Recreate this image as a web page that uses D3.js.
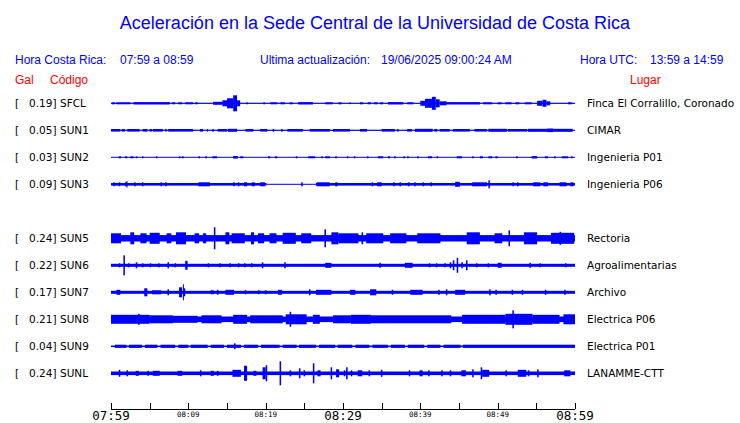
<!DOCTYPE html>
<html><head><meta charset="utf-8">
<script src="https://cdn.jsdelivr.net/npm/d3@7"></script>
<style>body{margin:0;background:#fff}svg{display:block}</style>
</head><body><svg id="c" width="740" height="423"></svg>
<script>
// ---------- DATA ----------
const title = "Aceleración en la Sede Central de la Universidad de Costa Rica";
const horaCR = "07:59 a 08:59";
const horaUTC = "13:59 a 14:59";
const actualizacion = "19/06/2025 09:00:24 AM";
const codes  = ["SFCL","SUN1","SUN2","SUN3","SUN5","SUN6","SUN7","SUN8","SUN9","SUNL"];
const slots  = [0,1,2,3,5,6,7,8,9,10];
const gal    = ["0.19","0.05","0.03","0.09","0.24","0.22","0.17","0.21","0.04","0.24"];
const places = ["Finca El Corralillo, Coronado","CIMAR","Ingenieria P01","Ingenieria P06","Rectoria","Agroalimentarias","Archivo","Electrica P06","Electrica P01","LANAMME-CTT"];
const tickMinutes = [0,5,10,15,20,25,30,35,40,45,50,55,60];
const tickLabels = {0:"07:59",10:"08:09",20:"08:19",30:"08:29",40:"08:39",50:"08:49",60:"08:59"};
const majorTicks = [0,30,60];
// background level per station: [start min, end min, amplitude]
const baseSFCL = [[0,60,0.6]];
const baseSUN1 = [[0,60,0.6]];
const baseSUN2 = [[0,60,0.5]];
const baseSUN3 = [[0,20.1,1.3],[20.1,26.5,0.5],[26.5,60,1.3]];
const baseSUN5 = [[0,60,3.2]];
const baseSUN6 = [[0,60,1.5]];
const baseSUN7 = [[0,60,1.5]];
const baseSUN8 = [[0,60,2.8]];
const baseSUN9 = [[0,60,0.8]];
const baseSUNL = [[0,60,1.8]];
// bursts per station: [start min, end min, amplitude]
const burstSFCL = [[0.1,0.5,1],[0.7,2.5,1],[2.9,7.6,1.2],[7.9,8.3,1],[8.7,9.2,1],[9.6,10.6,1],[10.9,11.2,1],[13.2,14.4,1.5],[14.4,15.0,3],[15.0,15.8,5],[15.8,16.3,8],[16.3,16.7,3],[17.5,17.7,1],[19.7,19.9,1],[20.6,21.5,1],[21.9,22.5,1],[23.1,23.5,1],[24.2,26.1,1.2],[27.7,28.7,1],[29.4,29.8,1],[30.8,31.0,0.8],[32.2,32.6,1],[33.2,33.6,1],[34.0,34.5,1],[34.8,35.2,1],[35.8,37.8,1.2],[38.3,39.1,1],[40.0,40.6,2.5],[40.6,41.5,4.5],[41.5,42.0,6.5],[42.0,42.5,4],[42.5,43.4,2],[43.4,47.7,1.2],[48.1,49.3,1],[50.0,50.5,1],[51.0,51.8,1],[52.3,52.8,1],[53.5,54.4,1],[55.1,55.8,2.5],[55.8,56.3,3.5],[56.3,56.8,2],[59.1,59.6,1]];
const burstSUN1 = [[0,1.2,1.3],[1.4,1.8,1.3],[2.1,3.7,1.3],[4.1,4.7,1.3],[5.0,5.3,1.3],[5.4,6.7,1.3],[7.0,7.2,1.3],[7.4,10.6,1.3],[11.5,11.9,1.3],[12.4,12.5,1.3],[13.1,13.3,1.3],[13.8,15.0,1.3],[15.1,16.3,1.5],[17.4,17.6,1.3],[17.6,18.4,1.3],[19.3,20.2,1.3],[20.9,21.1,1.3],[22.0,22.2,1.3],[22.8,24.8,1.3],[25.7,28.3,1.3],[28.7,30.9,1.3],[32.2,33.1,1.3],[35.0,36.7,1.3],[37.0,37.2,1.3],[38.3,38.9,1.3],[39.3,41.6,1.5],[41.8,42.2,1.3],[42.5,43.8,1.3],[44.2,46.4,1.3],[47.0,48.6,1.3],[48.8,51.2,1.5],[51.3,53.8,1.3],[53.9,56.4,1.5],[56.4,57.2,1.8],[57.2,59.7,1.5]];
const burstSUN2 = [[1.0,1.3,1],[1.8,2.1,1],[2.5,2.9,1],[3.2,3.4,1],[4.0,4.2,1],[5.8,6.0,1],[8.8,9.0,1],[9.2,9.4,1],[11.3,11.5,1],[12.2,12.4,1],[13.1,13.7,1],[15.8,16.4,1.3],[16.7,17.1,1],[20.3,20.6,1],[21.2,21.5,1],[23.9,24.1,1],[25.5,26.4,1],[27.2,27.4,1],[27.7,28.3,1],[29.0,29.2,1],[30.5,30.7,1],[31.4,31.6,1],[33.1,33.3,1],[34.5,35.2,1],[35.8,36.1,1],[36.6,36.8,1],[37.8,38.0,1],[38.3,38.5,1],[39.6,39.8,1],[41.0,41.5,1],[42.1,42.3,1],[44.7,45.4,1],[46.7,46.9,1],[47.7,48.1,1],[48.8,49.3,1],[49.7,50.0,1],[52.4,52.6,1],[54.4,55.1,1.2],[56.1,56.5,1],[57.3,57.5,1],[58.3,59.1,1],[59.5,59.7,1]];
const burstSUN3 = [[0.3,0.5,2],[1.0,1.2,2],[1.8,2.1,2],[2.0,2.1,3.3],[3.0,3.2,2],[4.0,4.2,2],[6.4,6.6,2],[7.0,7.2,2],[11.3,12.8,2],[15.8,16.0,2],[16.4,16.6,2],[17.2,17.6,2],[18.2,18.6,2],[19.3,19.9,2],[24.6,24.8,2],[26.6,28.3,2],[29.0,29.3,2],[33.7,33.9,2],[34.4,35.0,2],[36.5,36.7,2],[37.3,37.5,2],[38.4,38.6,2],[39.2,39.4,2],[40.3,40.5,2],[41.3,41.5,2],[44.5,45.1,2.5],[46.7,48.6,2],[48.8,49.0,4],[51.9,52.1,2],[52.5,52.7,2],[54.6,55.5,2],[55.9,56.5,2],[58.0,58.9,2],[59.4,59.8,2]];
const burstSUN5 = [[0,1.3,5],[2.5,3.0,6],[3.8,4.6,5],[5.0,6.3,5.5],[7.2,7.8,5],[8.4,9.7,6],[10.8,11.4,5],[11.9,12.3,5],[13.3,13.5,11],[14.8,15.3,6],[15.6,17.3,5],[18.1,18.5,6],[19.0,19.8,5],[20.5,21.4,5],[22.2,23.9,5.5],[24.6,25.9,5],[27.6,27.8,9],[28.5,29.4,6],[29.4,32.0,5],[32.4,32.6,6],[33.0,35.2,5],[36.1,38.2,5],[39.6,42.6,5],[46.0,47.7,6],[49.6,50.6,5],[51.4,51.6,8],[53.4,55.1,6],[56.9,59.9,5.5],[58.0,58.2,6.5]];
const burstSUN6 = [[1.0,1.2,2],[1.6,1.8,10],[2.2,2.4,2],[3.2,3.4,3],[4.0,4.2,2],[5.0,5.2,2],[6.1,6.3,2],[7.3,7.5,3],[8.2,8.4,2],[9.6,9.9,4.5],[12.5,12.7,2],[14.0,14.2,2],[15.3,15.5,2],[16.4,16.6,2],[17.2,17.4,2],[18.1,18.3,2],[19.5,19.7,3],[22.4,22.6,3],[27.7,28.5,2.5],[34.7,34.9,2.5],[38.0,39.0,2.5],[41.1,41.3,2],[42.0,42.2,2],[43.1,43.3,2],[43.8,44.0,3],[44.2,44.4,5],[44.7,44.9,7.5],[45.3,45.5,3],[45.9,46.1,5],[47.2,47.4,2],[48.7,48.9,2],[50.0,50.5,2.5],[54.1,54.3,2.5],[55.4,55.6,2],[58.7,58.9,2]];
const burstSUN7 = [[0.7,1.2,2.5],[4.3,4.7,4],[5.3,6.5,2],[7.3,7.5,3],[8.8,9.2,5],[9.3,9.4,8],[9.4,9.6,4],[12.9,13.3,2],[13.7,13.9,2.5],[14.8,15.9,2.5],[17.3,17.5,2],[19.0,19.2,2],[19.9,20.1,2],[21.6,22.1,2.5],[25.6,25.8,3],[26.5,28.5,2.5],[30.9,31.6,2.5],[33.5,34.3,3],[36.3,36.5,2.5],[38.7,40.3,2.5],[42.3,42.5,2.5],[43.3,43.5,3],[44.5,45.8,2.5],[48.9,49.1,3],[49.7,49.9,2.5],[51.8,52.0,2.5],[53.1,53.3,2.5],[56.1,56.3,2.5],[58.6,58.8,2.5]];
const burstSUN8 = [[0,5.0,4.5],[3.5,3.7,5.5],[5.0,8.0,4],[8.0,11.2,3.5],[11.7,14.3,4],[15.8,17.6,4.5],[18.0,22.2,4],[22.6,25.3,5],[23.1,23.3,7.5],[26.1,27.0,4.5],[28.7,31.0,4],[31.0,33.6,4.5],[33.6,44.0,4],[45.4,51.0,4.5],[51.0,54.5,5.5],[51.9,52.1,9],[54.5,58.0,4.5],[58.5,60,5]];
const burstSUN9 = [[0.5,2.0,1.6],[2.3,4.0,1.6],[4.4,6.0,1.6],[6.4,8.3,1.6],[8.7,10.0,1.6],[10.3,12.5,1.6],[12.9,14.6,1.6],[15.0,16.8,1.6],[15.9,16.1,3],[17.2,19.0,1.6],[19.4,21.8,1.6],[22.2,24.0,1.6],[24.3,26.5,1.6],[26.9,29.0,1.6],[29.3,31.2,1.6],[31.6,33.4,1.6],[33.8,35.8,1.6],[36.2,38.0,1.6],[38.4,40.5,1.6],[40.9,42.6,1.6],[43.0,45.2,1.6],[45.5,60,1.6]];
const burstSUNL = [[1.0,1.2,3.5],[2.0,2.2,3],[3.2,3.6,2.5],[4.7,4.9,2.5],[5.4,6.3,2.5],[8.6,9.2,2.5],[11.5,11.7,3],[12.9,13.3,2.5],[13.7,13.9,2.5],[15.7,16.8,3.5],[17.2,17.6,7.5],[18.4,18.8,2.5],[19.6,20.0,6],[20.0,20.2,8],[21.8,22.0,12],[23.1,23.3,3],[24.3,24.5,5],[24.9,25.1,3],[26.1,26.3,10],[26.7,27.1,3],[28.4,28.6,6],[29.1,29.5,4],[30.1,30.3,3],[30.4,30.6,6],[31.0,31.2,3],[31.9,32.5,3],[33.3,33.5,3],[34.9,35.1,3.5],[38.5,38.7,3],[39.9,40.3,3],[41.0,41.2,3],[42.7,42.9,3],[43.8,44.0,3],[45.3,45.9,3],[46.7,46.9,4],[47.8,48.0,6],[48.0,48.9,3.5],[51.0,51.2,3],[52.6,53.7,3.5],[53.9,54.1,3],[55.1,55.3,4],[58.6,59.4,3]];
const bases  = [baseSFCL,baseSUN1,baseSUN2,baseSUN3,baseSUN5,baseSUN6,baseSUN7,baseSUN8,baseSUN9,baseSUNL];
const bursts = [burstSFCL,burstSUN1,burstSUN2,burstSUN3,burstSUN5,burstSUN6,burstSUN7,burstSUN8,burstSUN9,burstSUNL];

// ---------- DRAW ----------
const svg = d3.select("#c");
const BLUE = "#0000ff", RED = "#ff0000";
const x = d3.scaleLinear().domain([0,60]).range([111,575]);
const row = d3.scaleLinear().domain([0,10]).range([103.3,373.3]);
const amp = d3.scaleLinear().domain([0,10]).range([0,10]);

svg.append("text").attr("x",375).attr("y",29).attr("text-anchor","middle")
  .attr("font-family","Liberation Sans, Arial, sans-serif").attr("font-size",18).attr("fill",BLUE).text(title);

const hdr = (tx,xx,yy,col,anchor) => svg.append("text").attr("x",xx).attr("y",yy)
  .attr("text-anchor",anchor||"start").attr("font-family","Liberation Sans, Arial, sans-serif")
  .attr("font-size",12).attr("fill",col).text(tx);
hdr("Hora Costa Rica:",15,64,BLUE);
hdr(horaCR,120,64,BLUE);
hdr("Ultima actualización:",260,64,BLUE);
hdr(actualizacion,381,64,BLUE);
hdr("Hora UTC:",580,64,BLUE);
hdr(horaUTC,650,64,BLUE);
hdr("Gal",15,84,RED);
hdr("Código",50,84,RED);
hdr("Lugar",630,84,RED);

const lab = (tx,xx,yy) => svg.append("text").attr("x",xx).attr("y",yy)
  .attr("font-family","DejaVu Sans, sans-serif").attr("font-size",10.5).attr("fill","#000").text(tx);

codes.forEach((c,i) => {
  const cy = row(slots[i]);
  lab("[",15,cy+4);
  lab(gal[i]+"]",29,cy+4);
  lab(c,60,cy+4);
  lab(places[i],587,cy+4);
  const g = svg.append("g");
  g.selectAll("rect.b").data(bases[i]).join("rect").attr("class","b")
    .attr("x",d=>x(d[0])).attr("width",d=>x(d[1])-x(d[0]))
    .attr("y",d=>cy-amp(d[2])).attr("height",d=>2*amp(d[2])).attr("fill",BLUE);
  g.selectAll("rect.s").data(bursts[i]).join("rect").attr("class","s")
    .attr("x",d=>x(d[0])).attr("width",d=>Math.max(1,x(d[1])-x(d[0])))
    .attr("y",d=>cy-amp(d[2])).attr("height",d=>2*amp(d[2])).attr("fill",BLUE);
});

// axis
const axY = 409;
svg.append("line").attr("x1",x(0)).attr("x2",x(60)).attr("y1",axY+0.5).attr("y2",axY+0.5)
  .attr("stroke","#000").attr("stroke-width",1);
svg.selectAll("line.tk").data(tickMinutes).join("line").attr("class","tk")
  .attr("x1",d=>Math.round(x(d))+0.5).attr("x2",d=>Math.round(x(d))+0.5)
  .attr("y1",axY-6).attr("y2",axY).attr("stroke","#000");
svg.selectAll("text.tl").data(Object.keys(tickLabels).map(Number)).join("text").attr("class","tl")
  .attr("x",d=>x(d)).attr("y",d=>majorTicks.includes(d)?420:417)
  .attr("text-anchor","middle").attr("font-family","DejaVu Sans Mono, monospace")
  .attr("font-size",d=>majorTicks.includes(d)?12.5:7.5)
  .attr("font-weight","normal")
  .attr("fill","#000").text(d=>tickLabels[d]);
</script></body></html>
